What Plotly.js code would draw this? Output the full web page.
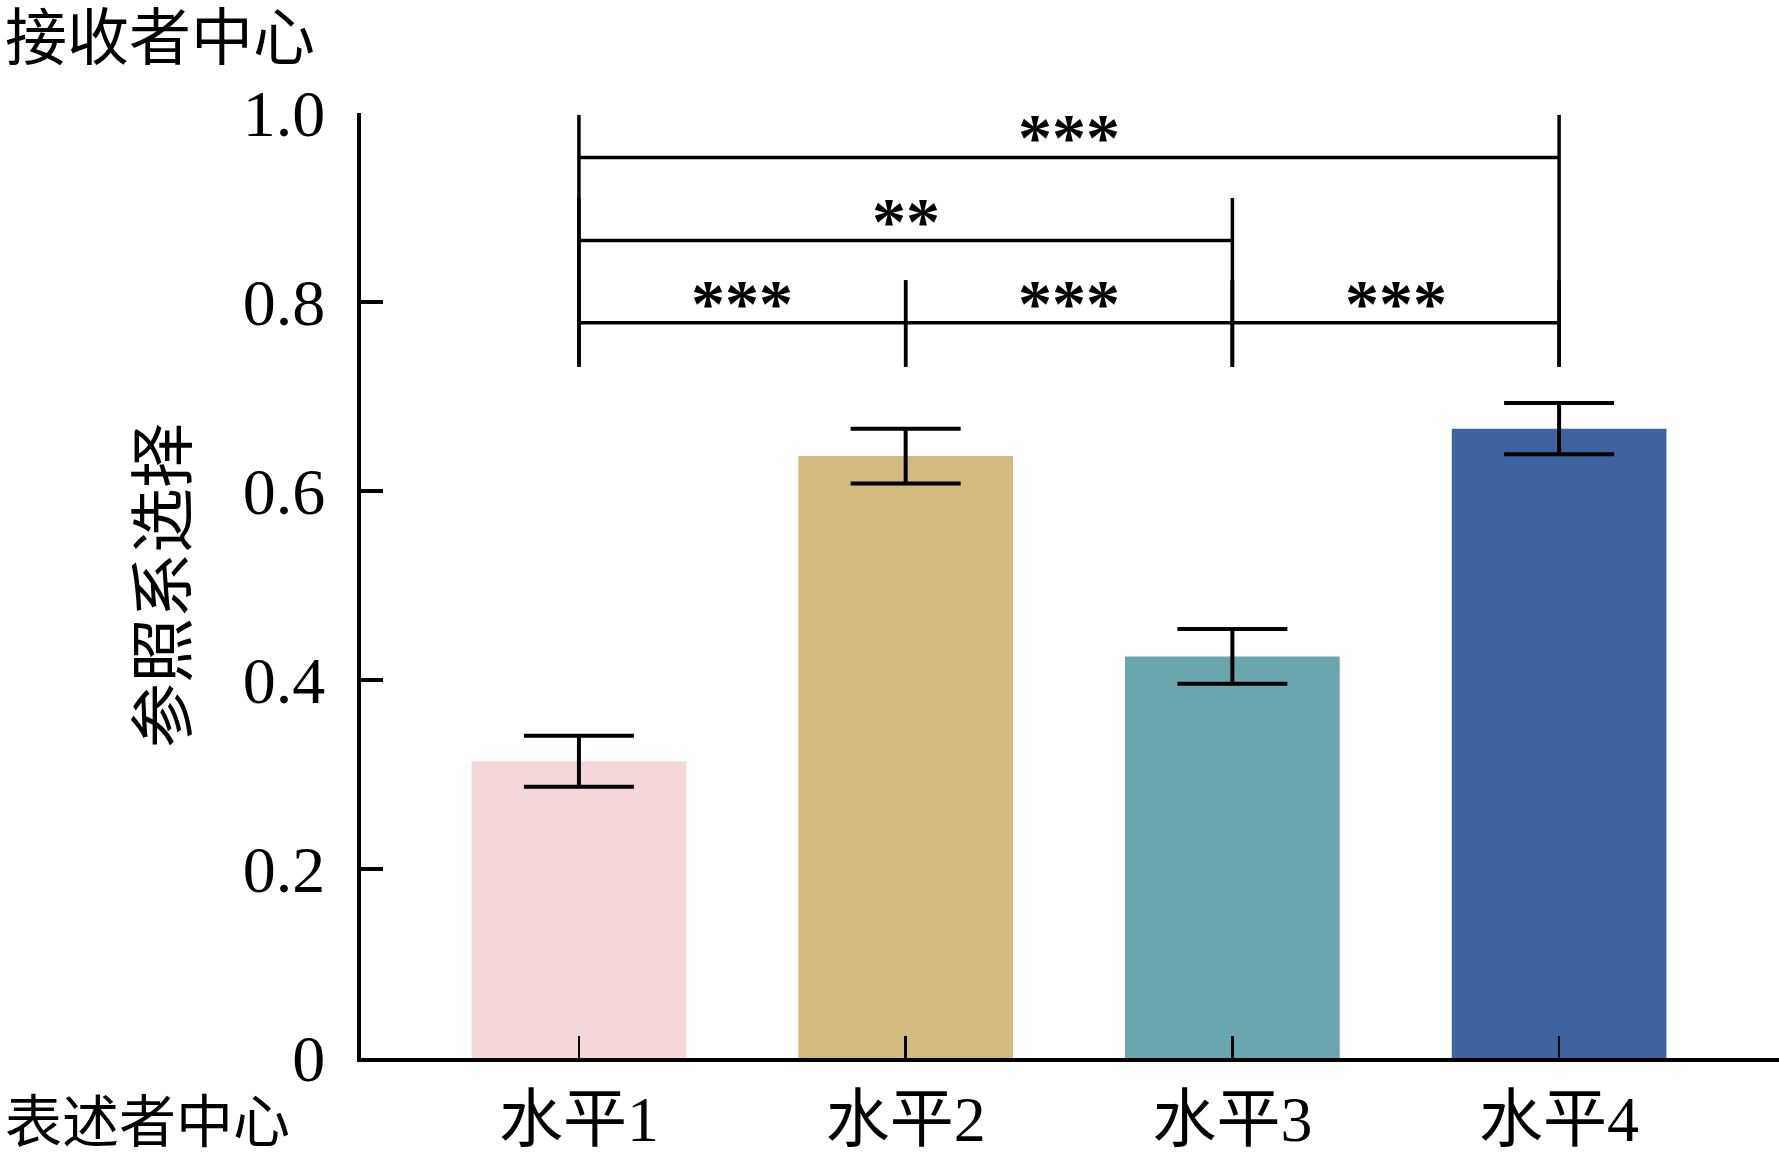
<!DOCTYPE html>
<html>
<head>
<meta charset="utf-8">
<script src="https://cdn.plot.ly/plotly-3.0.1.min.js"></script>
<style>html,body{margin:0;padding:0;background:#fff;}</style>
</head>
<body>
<div id="chart" style="width:1779px;height:1159px;"></div>
<script>
// ---- data ----
const categories = ['水平1', '水平2', '水平3', '水平4'];
const values = [0.314, 0.637, 0.425, 0.666];
const errors = [0.027, 0.029, 0.029, 0.027];
const barColors = ['#F4D7D9', '#D3BA7E', '#6AA6AE', '#3D64A0'];
const yTickVals = [0, 0.2, 0.4, 0.6, 0.8, 1.0];
const yTickText = ['0', '0.2', '0.4', '0.6', '0.8', '1.0'];
const sigPairs = [[0, 3], [0, 2], [0, 1], [1, 2], [2, 3]];
const sigLabels = ['***', '**', '***', '***', '***'];
const sigHeights = [0.953, 0.865, 0.778, 0.778, 0.778];
const yTitle = '参照系选择';
const topCorner = '接收者中心';
const bottomCorner = '表述者中心';

const FONT = '"Liberation Serif", "Noto Sans CJK SC", serif';

const trace = {
  type: 'bar',
  x: categories,
  y: values,
  width: 0.657,
  marker: {color: barColors, line: {width: 0}},
  error_y: {type: 'data', array: errors, visible: true, color: '#000', thickness: 4, width: 55},
  hoverinfo: 'skip'
};

const shapes = [];
const annotations = [];
const bracketBase = 0.7315;
const legRise = 0.045;
sigPairs.forEach((p, i) => {
  const h = sigHeights[i];
  const ln = {color: '#000', width: 3.5};
  shapes.push({type: 'line', xref: 'x', yref: 'y', x0: p[0], x1: p[1], y0: h, y1: h, line: ln});
  shapes.push({type: 'line', xref: 'x', yref: 'y', x0: p[0], x1: p[0], y0: bracketBase, y1: h + legRise, line: ln});
  shapes.push({type: 'line', xref: 'x', yref: 'y', x0: p[1], x1: p[1], y0: bracketBase, y1: h + legRise, line: ln});
  annotations.push({xref: 'x', yref: 'y', x: (p[0] + p[1]) / 2, y: h, text: '<b>' + sigLabels[i] + '</b>',
    showarrow: false, xanchor: 'center', yanchor: 'bottom', yshift: -20,
    font: {family: FONT, size: 68, color: '#000'}});
});
annotations.push({xref: 'paper', yref: 'paper', x: -358/1418, y: 1 + 113/945, xanchor: 'left', yanchor: 'top',
  text: topCorner, showarrow: false, font: {family: FONT, size: 62, color: '#000'}, yshift: -3});
annotations.push({xref: 'paper', yref: 'paper', x: -358/1418, y: -101/945, xanchor: 'left', yanchor: 'bottom',
  text: bottomCorner, showarrow: false, font: {family: FONT, size: 57, color: '#000'}, yshift: 3});

const layout = {
  width: 1779, height: 1159, autosize: false,
  margin: {l: 361, r: 0, t: 113, b: 101, pad: 0},
  paper_bgcolor: '#fff', plot_bgcolor: '#fff',
  showlegend: false,
  font: {family: FONT, color: '#000'},
  xaxis: {
    type: 'category', range: [-0.667, 3.673],
    showline: true, linewidth: 4, linecolor: '#000',
    ticks: 'inside', ticklen: 22, tickwidth: 2.5, tickcolor: '#000',
    tickfont: {family: FONT, size: 64, color: '#000'},
    ticklabelstandoff: 2,
    showgrid: false, zeroline: false, fixedrange: true
  },
  yaxis: {
    range: [0, 1.0],
    tickvals: yTickVals, ticktext: yTickText,
    showline: true, linewidth: 4.5, linecolor: '#000',
    ticks: 'inside', ticklen: 22, tickwidth: 4, tickcolor: '#000',
    tickfont: {family: FONT, size: 66, color: '#000'},
    ticklabelstandoff: 18,
    title: {text: yTitle, font: {family: FONT, size: 65, color: '#000'}, standoff: 36},
    showgrid: false, zeroline: false, fixedrange: true
  },
  shapes: shapes,
  annotations: annotations
};

Plotly.newPlot('chart', [trace], layout, {displayModeBar: false, staticPlot: true});
</script>
</body>
</html>
